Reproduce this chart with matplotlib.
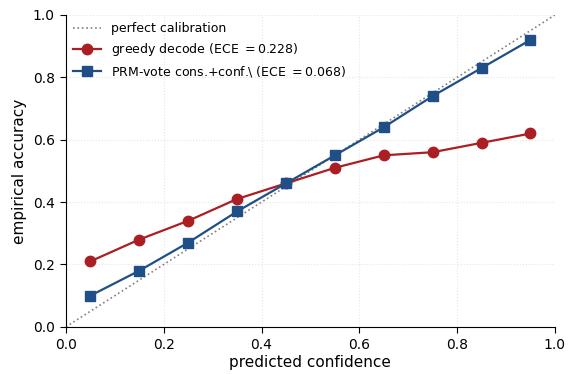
import numpy as np
import matplotlib.pyplot as plt

conf = [0.05, 0.15, 0.25, 0.35, 0.45, 0.55, 0.65, 0.75, 0.85, 0.95]
greedy_acc = [0.21, 0.28, 0.34, 0.41, 0.46, 0.51, 0.55, 0.56, 0.59, 0.62]
prm_acc = [0.10, 0.18, 0.27, 0.37, 0.46, 0.55, 0.64, 0.74, 0.83, 0.92]
greedy_ece = 0.228
prm_ece = 0.068

fig = plt.figure(figsize=(5.68, 3.74), dpi=100)
ax = fig.add_axes([0.116, 0.126, 0.861, 0.834])

ax.plot([0, 1], [0, 1], linestyle=':', color='grey', linewidth=1.2, label='perfect calibration')
ax.plot(conf, greedy_acc, marker='o', markersize=7.5, color='#ab1f24', linewidth=1.6,
        label=r'greedy decode (ECE $=%.3f$)' % greedy_ece)
ax.plot(conf, prm_acc, marker='s', markersize=7.5, color='#204f88', linewidth=1.6,
        label=r'PRM-vote cons.+conf.\ (ECE $=%.3f$)' % prm_ece)

ax.set_xlim(0, 1)
ax.set_ylim(0, 1)
ax.set_xlabel('predicted confidence', fontsize=11, labelpad=2)
ax.set_ylabel('empirical accuracy', fontsize=11)
ax.tick_params(labelsize=10, length=4.5)
ax.grid(True, linestyle=':', color='#e6e6e6', linewidth=0.8)
ax.spines['top'].set_visible(False)
ax.spines['right'].set_visible(False)
ax.legend(loc='upper left', frameon=False, fontsize=9, handlelength=2.2,
          borderaxespad=0.2, labelspacing=0.45)

plt.savefig('out.png', dpi=100)
